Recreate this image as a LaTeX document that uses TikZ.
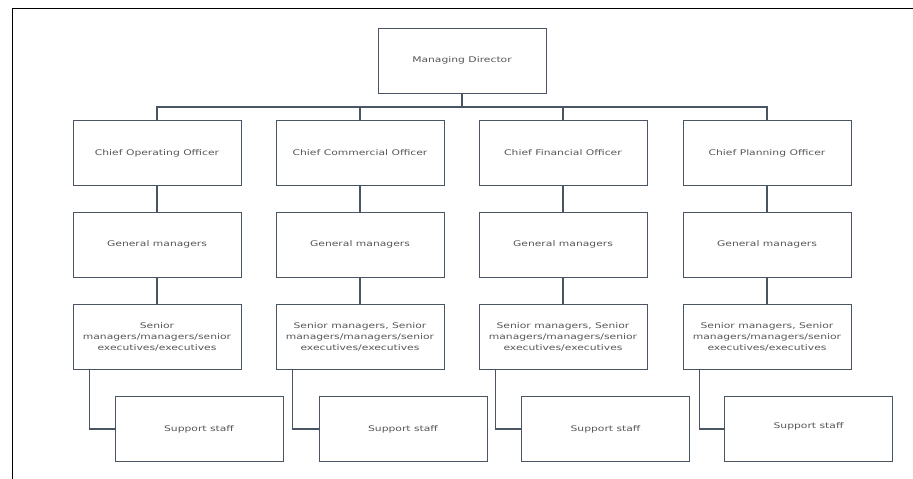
\documentclass[tikz,border=0pt]{standalone}
\usepackage{fontspec}
\setmainfont[FakeStretch=1.38]{DejaVu Sans}
\definecolor{boxline}{HTML}{4A5563}
\definecolor{boxtext}{HTML}{555555}
\begin{document}
\begin{tikzpicture}[x=1pt,y=-1pt,
  post/.style={draw=boxline,line width=1pt,minimum width=168pt,minimum height=65pt,
    inner sep=0pt,align=center,text=boxtext,font=\fontsize{7.8}{11}\selectfont},
  conn/.style={draw=boxline,line width=1.1pt}]
\useasboundingbox (0,0) rectangle (913,479);
\draw[line width=1pt] (12,479) -- (12,8) -- (913,8);
\node[post] (md) at (462,60.5) {Managing Director};
\node[post] (coo) at (157,153) {Chief Operating Officer};
\node[post] (cco) at (360,153) {Chief Commercial Officer};
\node[post] (cfo) at (563,153) {Chief Financial Officer};
\node[post] (cpo) at (767,153) {Chief Planning Officer};
\node[post] (gm1) at (157,244.5) {General managers};
\node[post] (gm2) at (360,244.5) {General managers};
\node[post] (gm3) at (563,244.5) {General managers};
\node[post] (gm4) at (767,244.5) {General managers};
\node[post] (sm1) at (157,337) {Senior\\managers/managers/senior\\executives/executives};
\node[post] (sm2) at (360,337) {Senior managers, Senior\\managers/managers/senior\\executives/executives};
\node[post] (sm3) at (563,337) {Senior managers, Senior\\managers/managers/senior\\executives/executives};
\node[post] (sm4) at (767,337) {Senior managers, Senior\\managers/managers/senior\\executives/executives};
\node[post] (ss1) at (199,429) {Support staff};
\node[post] (ss2) at (403,429) {Support staff};
\node[post] (ss3) at (605.5,429) {Support staff};
\node[post] (ss4) at (808.5,429) {\raisebox{7pt}{Support staff}};
\coordinate (bus) at (462,107);
\draw[conn,line width=1.8pt] (md) -- (bus);
\foreach \c in {coo,cco,cfo,cpo}
  \draw[conn] (bus) -| (\c);
\foreach \i/\c in {1/coo,2/cco,3/cfo,4/cpo} {
  \draw[conn] (\c) -- (gm\i);
  \draw[conn] (gm\i) -- (sm\i);
  \draw[conn] ([xshift=17pt]sm\i.south west) |- (ss\i.west);
}
\end{tikzpicture}
\end{document}
